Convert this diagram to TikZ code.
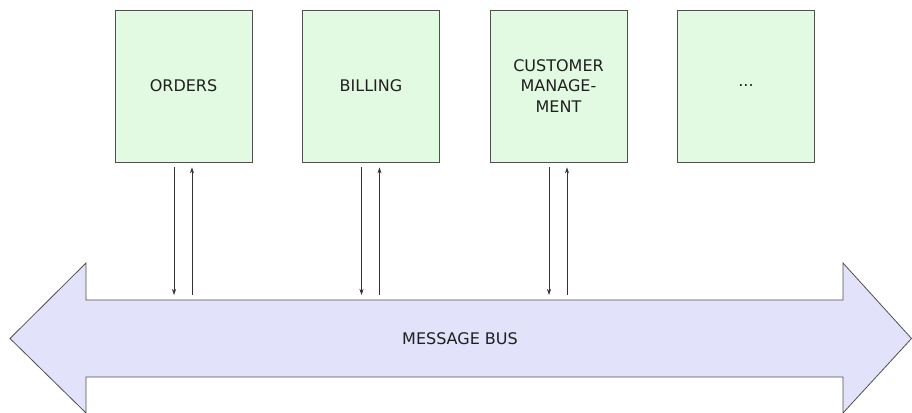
\documentclass[tikz,border=0pt]{standalone}
\usepackage{fontspec}
\setmainfont{DejaVu Sans}
\usetikzlibrary{arrows.meta,calc}
\definecolor{boxfill}{HTML}{E2FAE2}
\definecolor{busfill}{HTML}{E2E2FA}
\definecolor{edge}{HTML}{505050}
\definecolor{txt}{HTML}{202020}
\tikzset{
  svc/.style={draw=edge, fill=boxfill, line width=0.8pt, minimum width=137pt, minimum height=152pt, inner sep=0pt, align=center, text=txt, font=\fontsize{16}{20.5}\selectfont},
  msg/.style={-{Stealth[length=6pt,width=4pt]}, line width=0.6pt, draw=black!80}
}
\begin{document}
\begin{tikzpicture}[x=1pt,y=1pt]
\useasboundingbox (0,0) rectangle (912,412);
% bus
\draw[draw=edge, fill=busfill, line width=0.8pt]
  (10,73.5) -- (86,149) -- (86,112) -- (843,112) -- (843,149) -- (911.5,73.5)
  -- (843,-1) -- (843,35) -- (86,35) -- (86,-1) -- cycle;
\node[text=txt, font=\fontsize{16}{19}\selectfont] (bus) at (460,73.5) {MESSAGE BUS};
\coordinate (bustop) at (460,112);
% services
\node[svc] (orders) at (183.5,326) {ORDERS};
\node[svc] (billing) at (371,326) {BILLING};
\node[svc] (cust) at (558.5,326) {CUSTOMER\\MANAGE-\\MENT};
\node[svc] (more) at (746,326) {...};
\foreach \n in {orders,billing,cust}{
  \draw[msg] ([xshift=-9.5pt,yshift=-5pt]\n.south) -- ([xshift=-9.5pt,yshift=5pt]\n.south |- bustop);
  \draw[msg] ([xshift=8.5pt,yshift=5pt]\n.south |- bustop) -- ([xshift=8.5pt,yshift=-5pt]\n.south);
}
\end{tikzpicture}
\end{document}
